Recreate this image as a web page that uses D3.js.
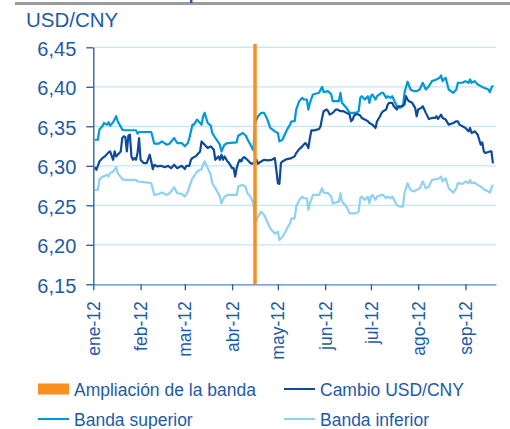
<!DOCTYPE html>
<html>
<head>
<meta charset="utf-8">
<script src="https://cdn.jsdelivr.net/npm/d3@7"></script>
<style>
body{margin:0;background:#fff;}
text{font-family:"Liberation Sans",Arial,sans-serif;}
</style>
</head>
<body>
<svg id="chart" width="510" height="429"></svg>
<script>
// datos (2012)
var fechasBanda = ["01-02","01-04","01-05","01-07","01-08","01-10","01-11","01-12","01-14","01-16","01-17","01-20","01-21","01-29","01-30","01-31",
  "02-08","02-10","02-13","02-15","02-18","02-20","02-23","02-25","02-28","03-01","03-03","03-04","03-06","03-07","03-09","03-12","03-13","03-14",
  "03-16","03-18","03-19","03-21","03-24","03-25","03-27","03-29","04-04","04-05","04-08","04-10","04-11","04-13","04-15","04-16","04-18","04-20",
  "04-22","04-24","04-26","04-29","05-01","05-02","05-04","05-06","05-07","05-09","05-10","05-12","05-13","05-15","05-17","05-18","05-20","05-21",
  "05-22","05-24","05-28","05-30","05-31","06-03","06-05","06-06","06-10","06-11","06-12","06-15","06-17","06-21","06-23","06-24","06-25","06-27",
  "06-29","06-30","07-01","07-02","07-04","07-05","07-08","07-09","07-11","07-12","07-14","07-15","07-18","07-20","07-22","07-23","07-25","07-27",
  "07-29","07-31","08-02","08-04","08-06","08-08","08-10","08-13","08-15","08-16","08-17","08-19","08-21","08-24","08-26","08-27","08-30","09-01",
  "09-03","09-04","09-05","09-07","09-09","09-11","09-13","09-16","09-17","09-18","09-19"];
var superior = [6.333,6.333,6.3458,6.35,6.3542,6.3521,6.3551,6.3508,6.3551,6.3627,6.3564,6.3458,6.345,6.345,6.3407,6.3428,
  6.3428,6.328,6.328,6.3309,6.3267,6.328,6.3352,6.3288,6.3288,6.3246,6.3288,6.3352,6.3521,6.3521,6.3585,6.3521,6.3627,6.367,
  6.3542,6.3508,6.3415,6.3352,6.3267,6.3182,6.3267,6.3288,6.3297,6.3381,6.3415,6.3381,6.3339,6.3267,6.3195,6.3542,6.3627,6.367,
  6.367,6.3593,6.348,6.3436,6.3415,6.3309,6.333,6.3415,6.3458,6.3521,6.3564,6.3564,6.3712,6.3818,6.386,6.3839,6.3839,6.3712,
  6.3797,6.3903,6.3924,6.40,6.3932,6.3945,6.3903,6.3818,6.3818,6.3924,6.3797,6.3733,6.367,6.367,6.3691,6.386,6.3881,6.3839,
  6.3881,6.3797,6.3881,6.3903,6.3839,6.3881,6.3924,6.3924,6.386,6.3881,6.386,6.3881,6.3754,6.3733,6.3754,6.3924,6.4064,6.3966,
  6.3945,6.3945,6.3966,6.4051,6.3966,6.4008,6.4072,6.4093,6.4114,6.4144,6.4072,6.4114,6.3966,6.3924,6.3966,6.4051,6.4051,6.4072,
  6.4051,6.4093,6.4051,6.4072,6.403,6.4008,6.3987,6.3966,6.3932,6.3987,6.4017];
var inferior = [6.2695,6.2695,6.2822,6.2864,6.2864,6.2886,6.2864,6.2907,6.2928,6.2983,6.2907,6.2831,6.2822,6.2822,6.2801,6.2801,
  6.278,6.2631,6.2644,6.2661,6.2631,6.2653,6.2729,6.2653,6.2644,6.261,6.2674,6.2737,6.2843,6.2864,6.2928,6.2958,6.3013,6.3055,
  6.297,6.2886,6.278,6.2716,6.261,6.2525,6.261,6.2631,6.2631,6.2737,6.2759,6.2729,6.2653,6.261,6.2525,6.2271,6.2356,6.242,
  6.2377,6.2292,6.2208,6.2144,6.2165,6.2059,6.2102,6.2165,6.2208,6.2271,6.2335,6.2335,6.2483,6.2568,6.261,6.2589,6.2589,6.2441,
  6.2525,6.2631,6.2631,6.2716,6.2661,6.2653,6.261,6.2525,6.2547,6.2653,6.2547,6.2483,6.2398,6.2398,6.242,6.2589,6.261,6.2568,
  6.261,6.2525,6.261,6.2631,6.2568,6.261,6.2631,6.2631,6.2589,6.261,6.2589,6.261,6.2504,6.2483,6.2483,6.2653,6.278,6.2695,
  6.2674,6.2695,6.2716,6.2801,6.2716,6.2737,6.2822,6.2831,6.2843,6.2864,6.2801,6.2843,6.2716,6.2661,6.2716,6.278,6.2771,6.2801,
  6.278,6.2822,6.278,6.2788,6.2759,6.2737,6.2703,6.2674,6.2661,6.2716,6.2759];

var fechasCambio = ["01-02","01-03","01-04","01-05","01-07","01-09","01-11","01-12","01-14","01-15","01-16","01-17","01-19","01-20","01-21","01-22",
  "01-23","01-24","01-25","01-26","01-27","01-28","01-29","01-30","01-31","02-01","02-02","02-03","02-05","02-07","02-08","02-09","02-10","02-12",
  "02-14","02-17","02-19","02-21","02-23","02-25","02-28","03-01","03-02","03-04","03-05","03-06","03-08","03-11","03-12","03-14","03-16","03-18",
  "03-19","03-20","03-21","03-23","03-24","03-25","03-26","03-27","03-29","03-30","04-01","04-02","04-03","04-04","04-05","04-06","04-07","04-08",
  "04-09","04-11","04-12","04-13","04-14","04-16","04-17","04-18","04-20","04-22","04-24","04-27","04-29","04-30","05-01","05-02","05-03","05-04",
  "05-06","05-07","05-10","05-12","05-13","05-15","05-17","05-19","05-20","05-21","05-22","05-23","05-25","05-28","05-29","05-30","05-31","06-02",
  "06-03","06-04","06-06","06-08","06-09","06-11","06-13","06-15","06-17","06-18","06-19","06-20","06-22","06-24","06-25","06-27","06-29","06-30",
  "07-02","07-03","07-04","07-05","07-07","07-08","07-09","07-11","07-12","07-13","07-15","07-16","07-18","07-19","07-21","07-23","07-24","07-25",
  "07-26","07-28","07-30","07-31","08-01","08-03","08-04","08-05","08-06","08-08","08-10","08-12","08-13","08-14","08-16","08-17","08-19","08-21",
  "08-24","08-26","08-27","08-28","08-30","09-01","09-03","09-04","09-05","09-07","09-09","09-10","09-11","09-12","09-13","09-14","09-17","09-18","09-19"];
var cambio = [6.2983,6.2949,6.3,6.3055,6.3098,6.3127,6.317,6.3182,6.3076,6.3182,6.3119,6.314,6.3182,6.3352,6.3373,6.3364,
  6.3182,6.3381,6.3394,6.3119,6.3076,6.3098,6.3076,6.3161,6.3352,6.3076,6.3055,6.3034,6.3034,6.314,6.3055,6.2958,6.3013,6.2992,
  6.3,6.2983,6.3,6.297,6.3013,6.297,6.3,6.2958,6.3,6.3,6.3076,6.3098,6.3119,6.3182,6.3309,6.3267,6.3225,6.3246,
  6.3225,6.3203,6.3076,6.3119,6.3076,6.314,6.3076,6.3119,6.3055,6.3034,6.297,6.297,6.2864,6.297,6.3034,6.3076,6.3055,6.3098,
  6.311,6.3076,6.3055,6.3034,6.3025,6.3042,6.3076,6.3025,6.3055,6.3076,6.3068,6.3076,6.3098,6.2949,6.278,6.2771,6.3034,6.3055,
  6.3076,6.3085,6.3098,6.3119,6.3161,6.3212,6.3246,6.3288,6.3267,6.3225,6.3352,6.3449,6.3449,6.3466,6.35,6.3606,6.3691,6.3712,
  6.3691,6.3648,6.367,6.3712,6.3712,6.3691,6.3691,6.367,6.3648,6.3564,6.3585,6.3636,6.3657,6.3636,6.3606,6.3585,6.3564,6.3542,
  6.3521,6.35,6.3479,6.3564,6.3627,6.367,6.3691,6.3712,6.3775,6.3797,6.3797,6.3754,6.3712,6.3754,6.3754,6.3775,6.3881,6.3839,
  6.3818,6.3797,6.3733,6.3627,6.3712,6.3733,6.3754,6.3712,6.367,6.3593,6.3606,6.3606,6.3627,6.3593,6.3648,6.3606,6.3585,6.3521,
  6.3542,6.3564,6.3564,6.3521,6.35,6.3479,6.3436,6.3479,6.3415,6.3436,6.3394,6.333,6.3267,6.3297,6.3182,6.3161,6.3182,6.3182,6.303];

var ampliacion = ["04-16"];
var yTicks = [6.15, 6.20, 6.25, 6.30, 6.35, 6.40, 6.45];
var mesesLabels = ["ene-12","feb-12","mar-12","abr-12","may-12","jun-12","jul-12","ago-12","sep-12"];
var legendItems = [
  {name: "Ampliación de la banda", color: "#f7901e", tipo: "bar"},
  {name: "Cambio USD/CNY", color: "#0d4a9c", tipo: "line"},
  {name: "Banda superior", color: "#0098da", tipo: "line"},
  {name: "Banda inferior", color: "#8fd1f1", tipo: "line"}
];

var parse = d3.timeParse("%Y-%m-%d");
function fecha(s){ return parse("2012-" + s); }

var svg = d3.select("#chart");
var textColor = "#1f5aa8";

var x = d3.scaleTime().domain([new Date(2012,0,1), new Date(2012,8,21)]).range([93.3, 496]);
var y = d3.scaleLinear().domain([6.15, 6.45]).range([284.3, 47.3]);

// barra gris arriba
svg.append("rect").attr("x", 15).attr("y", 2).attr("width", 495).attr("height", 3).attr("fill", "#9a9a9a");
svg.append("rect").attr("x", 190).attr("y", 0).attr("width", 2.5).attr("height", 3).attr("fill", "#1f5aa8");

// titulo
svg.append("text").attr("x", 26).attr("y", 26.5).attr("font-size", 20.5).attr("fill", textColor).text("USD/CNY");

// rejilla
svg.append("g").selectAll("line").data(yTicks.slice(1)).enter().append("line")
  .attr("x1", 93.3).attr("x2", 496)
  .attr("y1", d => y(d)).attr("y2", d => y(d))
  .attr("stroke", "#c3e5f6").attr("stroke-width", 1.3);

// series
function serie(fechas, vals){
  return fechas.map((f, i) => ({date: fecha(f), v: vals[i]}));
}
var line = d3.line().x(d => x(d.date)).y(d => y(d.v));

svg.append("path").datum(serie(fechasBanda, inferior)).attr("d", line)
  .attr("fill", "none").attr("stroke", "#8fd1f1").attr("stroke-width", 2.2).attr("stroke-linejoin", "round");
svg.append("path").datum(serie(fechasBanda, superior)).attr("d", line)
  .attr("fill", "none").attr("stroke", "#0098da").attr("stroke-width", 2.2).attr("stroke-linejoin", "round");
svg.append("path").datum(serie(fechasCambio, cambio)).attr("d", line)
  .attr("fill", "none").attr("stroke", "#0d4a9c").attr("stroke-width", 2.2).attr("stroke-linejoin", "round");

// ampliacion de la banda
svg.append("g").selectAll("rect").data(ampliacion).enter().append("rect")
  .attr("x", d => x(fecha(d)) - 1.75).attr("width", 3.5)
  .attr("y", 44).attr("height", y(6.15) - 44)
  .attr("fill", "#f7901e");

// ejes
var yAxis = d3.axisLeft(y).tickValues(yTicks)
  .tickFormat(d => d.toFixed(2).replace(".", ","))
  .tickSize(7).tickSizeOuter(0).tickPadding(10);
var gy = svg.append("g").attr("transform", "translate(93.3,0)").call(yAxis);
gy.select(".domain").attr("stroke", textColor).attr("stroke-width", 1.3);
gy.selectAll(".tick line").attr("stroke", textColor).attr("stroke-width", 1.3);
gy.selectAll(".tick text").attr("fill", textColor).attr("font-size", 20)
  .attr("font-family", "Liberation Sans, Arial, sans-serif").attr("dy", "0.4em");

var meses = d3.timeMonth.range(new Date(2012,0,1), new Date(2012,9,1));
var xAxis = d3.axisBottom(x).tickValues(meses)
  .tickFormat((d, i) => mesesLabels[i])
  .tickSize(6).tickSizeOuter(0);
var gx = svg.append("g").attr("transform", "translate(0," + y(6.15) + ")").call(xAxis);
gx.select(".domain").attr("stroke", "#4f86c9").attr("stroke-width", 1.3);
gx.selectAll(".tick line").attr("stroke", textColor).attr("stroke-width", 1.3);
gx.selectAll(".tick text").attr("fill", textColor).attr("font-size", 17.5)
  .attr("font-family", "Liberation Sans, Arial, sans-serif")
  .attr("transform", "rotate(-90)")
  .attr("text-anchor", "end")
  .attr("x", -17).attr("y", 0).attr("dy", "0.35em");

// leyenda
var leg = svg.append("g").selectAll("g").data(legendItems).enter().append("g")
  .attr("transform", (d, i) => "translate(" + (i % 2 === 0 ? 38 : 284) + "," + (i < 2 ? 389 : 419) + ")");
leg.filter(d => d.tipo === "bar").append("rect")
  .attr("x", 0).attr("y", -5.5).attr("width", 31).attr("height", 11).attr("fill", d => d.color);
leg.filter(d => d.tipo === "line").append("line")
  .attr("x1", 0).attr("x2", 31).attr("y1", 0).attr("y2", 0)
  .attr("stroke", d => d.color).attr("stroke-width", 2);
leg.append("text").attr("x", 36).attr("y", 6.5).attr("font-size", 17.5).attr("fill", textColor)
  .text(d => d.name);
</script>
</body>
</html>
